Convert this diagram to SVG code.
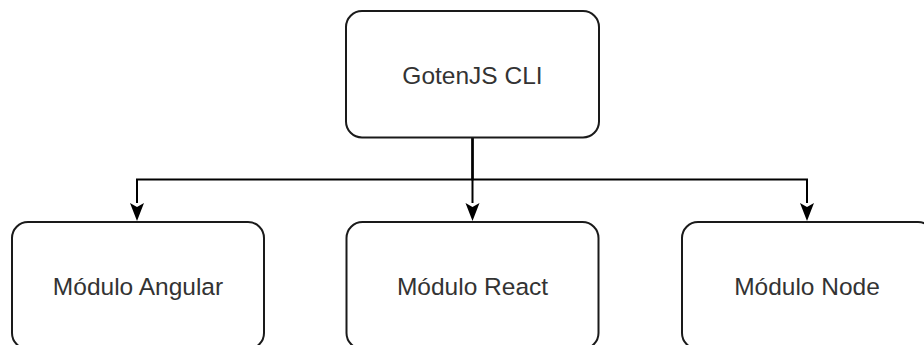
<svg xmlns="http://www.w3.org/2000/svg" width="924" height="345" viewBox="0 0 924 345">
<defs>
<style>
.node rect{fill:#fff;stroke:#1a1a1a;stroke-width:2}
.node text{font-family:"Liberation Sans",Arial,sans-serif;font-size:24.5px;fill:#333;text-anchor:middle}
.edge{fill:none;stroke:#000;stroke-width:2}
</style>
<marker id="arr" viewBox="0 0 14 18" refX="7" refY="18" markerWidth="14" markerHeight="18" markerUnits="userSpaceOnUse" orient="auto-start-reverse">
<path d="M0,0 L7,4 L14,0 L7,18 Z" fill="#000"/>
</marker>
</defs>
<rect width="924" height="345" fill="#fff"/>
<g id="connectors">
<path class="edge" d="M472.5,138 V179.5 H137 V203"/>
<path class="edge" d="M472.5,138 V203"/>
<path class="edge" d="M472.5,138 V179.5 H807 V203"/>
<path d="M130,203 L137,207 L144,203 L137,221 Z" fill="#000"/>
<path d="M465.5,203 L472.5,207 L479.5,203 L472.5,221 Z" fill="#000"/>
<path d="M800,203 L807,207 L814,203 L807,221 Z" fill="#000"/>
</g>
<g id="gotenjs-cli" class="node">
<rect x="346" y="11" width="253" height="126.5" rx="16" ry="16"/>
<text x="472.5" y="83.5">GotenJS CLI</text>
</g>
<g id="modulo-angular" class="node">
<rect x="12" y="222" width="252" height="127" rx="16" ry="16"/>
<text x="138" y="294.5">Módulo Angular</text>
</g>
<g id="modulo-react" class="node">
<rect x="346.5" y="222" width="252" height="127" rx="16" ry="16"/>
<text x="472.5" y="294.5">Módulo React</text>
</g>
<g id="modulo-node" class="node">
<rect x="682" y="222" width="252" height="127" rx="16" ry="16"/>
<text x="807" y="294.5">Módulo Node</text>
</g>
</svg>
